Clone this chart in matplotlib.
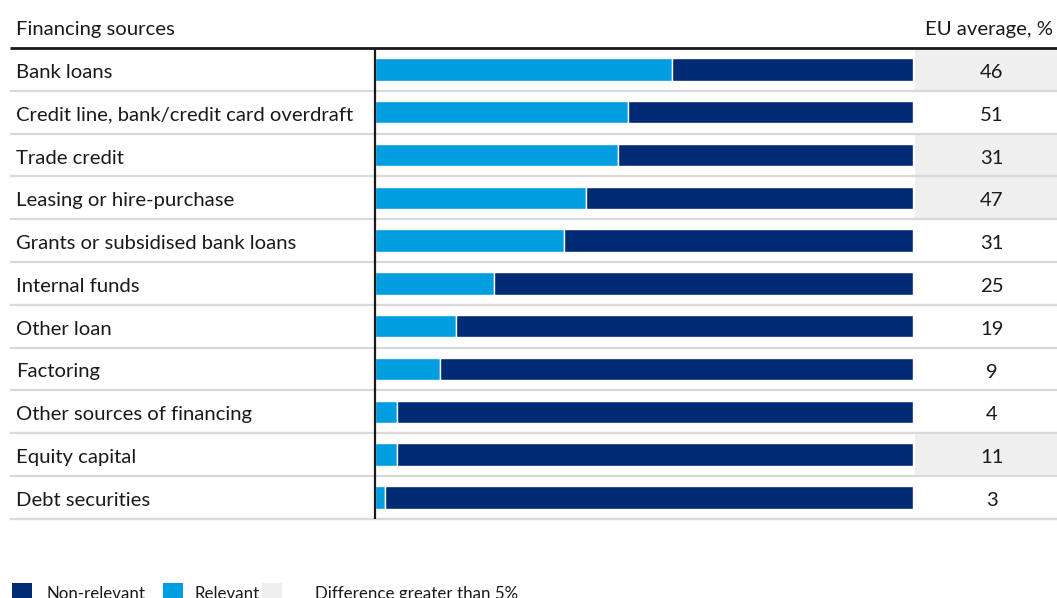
import matplotlib
matplotlib.use("Agg")
import matplotlib.pyplot as plt
from matplotlib.patches import Rectangle

# ── Data ──────────────────────────────────────────────────────────────────────

sources = [
    "Bank loans",
    "Credit line, bank/credit card overdraft",
    "Trade credit",
    "Leasing or hire-purchase",
    "Grants or subsidised bank loans",
    "Internal funds",
    "Other loan",
    "Factoring",
    "Other sources of financing",
    "Equity capital",
    "Debt securities",
]
relevant = [55.2, 47.0, 45.2, 39.2, 35.1, 22.1, 15.1, 12.1, 4.1, 4.1, 1.9]
non_relevant = [100 - r for r in relevant]
eu_average = [46, 51, 31, 47, 31, 25, 19, 9, 4, 11, 3]
big_difference = [True, False, True, True, False, False, False, False, False, True, False]

DARK = "#002A74"
LIGHT = "#009EE0"
SHADE = "#EFEFEF"
GRID = "#D9D9D9"
TEXT = "#1A1A1A"

plt.rcParams["font.family"] = ["Lato", "DejaVu Sans"]

# ── Layout (figure is 1057 x 598 px, bars span 375..913 px) ──────────────────
W, H = 1057, 598
px_per_pct = (913 - 375) / 100
row_h = 42.8
top = 48

fig = plt.figure(figsize=(W / 100, H / 100), dpi=100)
ax = fig.add_axes([0, 0, 1, 1])
ax.set_xlim(-375 / px_per_pct, (W - 375) / px_per_pct)
ax.set_ylim((H - top) / row_h, -top / row_h)
ax.axis("off")

def px_x(p):
    return (p - 375) / px_per_pct

def px_y(p):
    return (p - top) / row_h

n = len(sources)
ys = [i + 0.5 for i in range(n)]
text_dy = 3 / row_h
fs = 14.6

# shaded cells for EU average column
for i, flag in enumerate(big_difference):
    if flag:
        ax.add_patch(Rectangle((px_x(915), i + 0.02), px_x(W) - px_x(915), 0.96,
                               facecolor=SHADE, edgecolor="none", zorder=0))

# bars
ax.barh(ys, relevant, height=0.52, color=LIGHT, edgecolor="white", linewidth=1, zorder=2)
ax.barh(ys, non_relevant, left=relevant, height=0.52, color=DARK,
        edgecolor="white", linewidth=1, zorder=2)

# row separators
for i in range(1, n + 1):
    ax.plot([px_x(10), px_x(W)], [i, i], color=GRID, lw=1.6, zorder=1,
            solid_capstyle="butt")
ax.plot([px_x(10), px_x(W)], [0, 0], color=TEXT, lw=2, zorder=3, solid_capstyle="butt")
ax.plot([0, 0], [0, n], color=TEXT, lw=1.6, zorder=3, solid_capstyle="butt")

# labels and values
for y, name, val in zip(ys, sources, eu_average):
    ax.text(px_x(16), y + text_dy, name, ha="left", va="center", fontsize=fs, color=TEXT)
    ax.text(px_x(992), y + text_dy, str(val), ha="center", va="center", fontsize=fs,
            color=TEXT)

ax.text(px_x(16), px_y(30), "Financing sources", ha="left", va="center",
        fontsize=fs, color=TEXT)
ax.text(px_x(1053), px_y(30), "EU average, %", ha="right", va="center",
        fontsize=fs, color=TEXT)

# legend
legend_items = [(12, DARK, 46, "Non-relevant"),
                (163, LIGHT, 194, "Relevant"),
                (262, SHADE, 315, "Difference greater than 5%")]
for sx, col, tx, label in legend_items:
    ax.add_patch(Rectangle((px_x(sx), px_y(583)), 20 / px_per_pct, 20 / row_h,
                           facecolor=col, edgecolor="none", clip_on=False))
    ax.text(px_x(tx), px_y(594), label, ha="left", va="center", fontsize=12.2, color=TEXT)

fig.savefig("out.png", dpi=100)
